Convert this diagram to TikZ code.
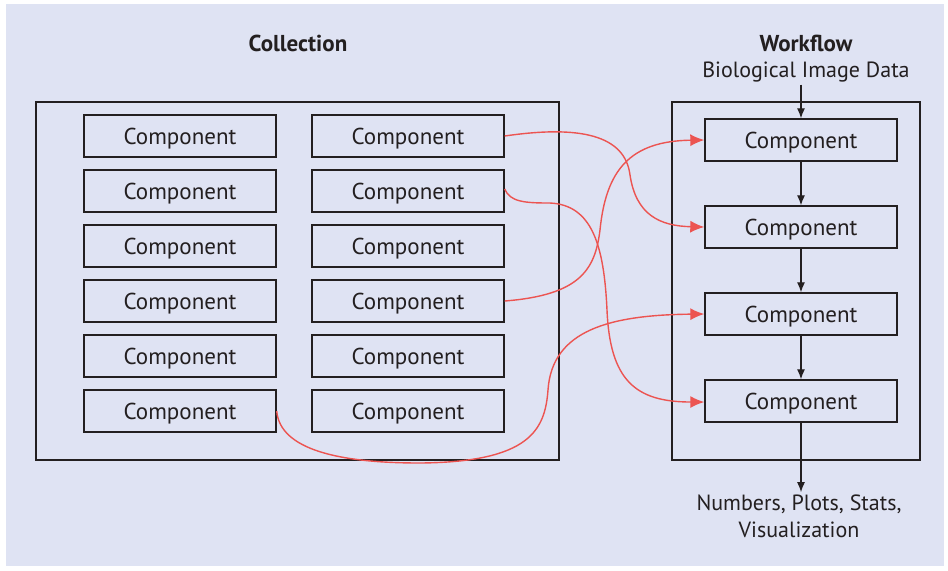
\documentclass[tikz,border=0pt]{standalone}
\usepackage{fontspec}
\setmainfont{PT Sans}
\usetikzlibrary{positioning,arrows.meta}
\definecolor{bgblue}{HTML}{DFE3F3}
\definecolor{ink}{HTML}{231F20}
\definecolor{linkred}{HTML}{EC5451}
\tikzset{comp/.style = {draw=ink,line width=0.7pt,minimum width=96pt,minimum height=21pt,inner sep=0pt,text depth=0pt,text=ink,font=\fontsize{11.5}{13}\selectfont}}
\tikzset{link/.style = {draw=linkred,line width=0.7pt,-{Latex[length=7pt,width=6pt]}}}
\tikzset{flow/.style = {draw=ink,line width=0.6pt,-{Latex[length=5pt,width=4pt]}}}

\begin{document}
\begin{tikzpicture}[x=0.5pt,y=-0.5pt]
        \useasboundingbox (0,0) rectangle (948,570);
        \fill [bgblue] (6,4) rectangle (944,566);
        % collection
        \node [text=ink,font=\fontsize{11.5}{13}\selectfont\bfseries] (colltitle) at (298,43) {Collection};
        \draw [ink,line width=0.7pt] (36,102) rectangle (559,460);
        \foreach \r/\y in {1/136,2/191,3/246,4/301,5/356,6/411} {
            \node [comp] (l\r) at (180,\y) {Component};
            \node [comp] (r\r) at (408,\y) {Component};
        }
        % workflow
        \node [text=ink,font=\fontsize{11.5}{13}\selectfont\bfseries] (wftitle) at (806,43) {Workflow};
        \node [text=ink,font=\fontsize{11}{13}\selectfont,inner sep=1pt] (bio) at (806,72) {Biological Image Data};
        \draw [ink,line width=0.7pt] (672,102) rectangle (920,460);
        \node [comp] (w1) at (801,140) {Component};
        \node [comp] (w2) at (801,227) {Component};
        \node [comp] (w3) at (801,314) {Component};
        \node [comp] (w4) at (801,401) {Component};
        \node [text=ink,font=\fontsize{11}{13.5}\selectfont,align=center,inner sep=1pt] (out) at (799,516) {Numbers, Plots, Stats,\\Visualization};
        \draw [flow] (bio.south -| w1.north) -- (w1.north);
        \draw [flow] (w1) -- (w2);
        \draw [flow] (w2) -- (w3);
        \draw [flow] (w3) -- (w4);
        \draw [flow] (w4.south) -- (w4.south |- out.north);
        % links
        \draw [link] (r1.east) .. controls (580,125) and (625,135) .. (630,175)
            .. controls (636,215) and (660,226) .. (w2.west);
        \draw [link] ([yshift=1pt]r2.east) .. controls (510,202) and (525,203) .. (550,203)
            .. controls (592,205) and (604,245) .. (607,310)
            .. controls (610,380) and (635,402) .. ([yshift=-0.5pt]w4.west);
        \draw [link] (r4.east) .. controls (580,295) and (595,270) .. (600,230)
            .. controls (606,170) and (630,141) .. (w1.west);
        \draw [link] (l6.east) .. controls (280,450) and (340,463) .. (420,463)
            .. controls (530,462) and (545,430) .. (548,390)
            .. controls (552,330) and (610,315) .. (w3.west);
    \end{tikzpicture}
\end{document}
